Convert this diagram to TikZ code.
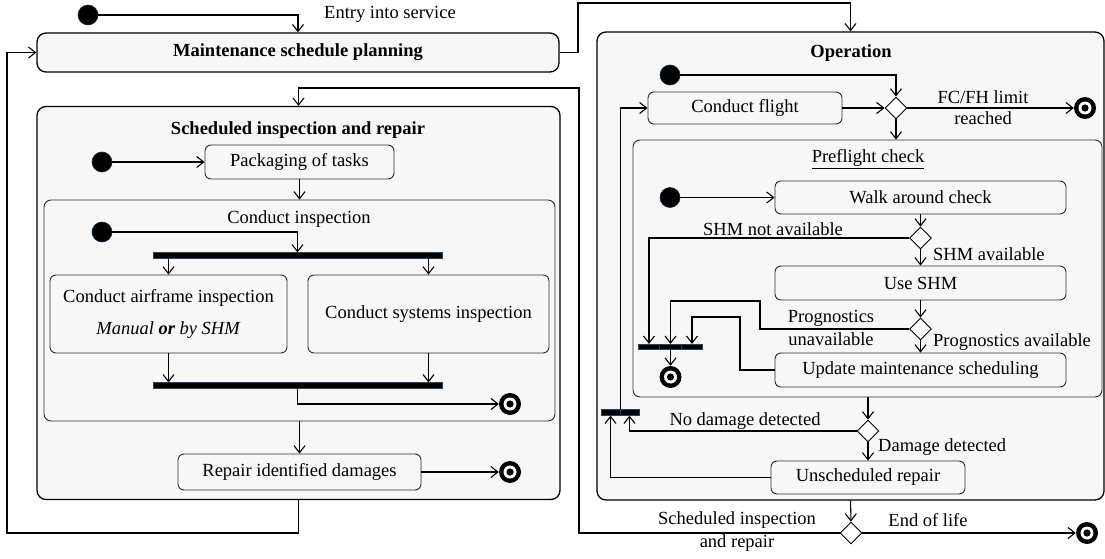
\documentclass[tikz,border=0pt]{standalone}
\usepackage{fontspec}
\setmainfont{Liberation Serif}
\usetikzlibrary{arrows.meta,shapes.geometric,calc}

\definecolor{panel}{HTML}{F7F7F7}
\definecolor{edge}{HTML}{2B2B2B}
\definecolor{barrim}{HTML}{1E4463}
\definecolor{dotrim}{HTML}{10283E}

\begin{document}
\begin{tikzpicture}[x=1pt,y=-1pt,
  every node/.style={font=\fontsize{18.5}{22}\selectfont},
  container/.style={draw=black, line width=1.3pt, fill=panel, rounded corners=9pt, inner sep=0},
  region/.style={draw=edge, line width=0.9pt, fill=panel, rounded corners=7pt, inner sep=0},
  act/.style={draw=edge, line width=0.9pt, fill=panel, rounded corners=6pt, inner sep=0, align=center},
  startdot/.style={circle, fill=black, draw=dotrim, line width=0.6pt, minimum size=20pt, inner sep=0},
  finaldot/.style={circle, fill=black, minimum size=22pt, inner sep=0,
    path picture={\fill[white] (path picture bounding box.center) circle (6.5pt);
                  \fill[black] (path picture bounding box.center) circle (3.6pt);}},
  choice/.style={diamond, draw=black, line width=0.9pt, fill=white, minimum width=22pt, minimum height=22pt, inner sep=0},
  syncbar/.style={rectangle, fill=black, draw=barrim, line width=0.7pt, inner sep=0, minimum height=5.5pt},
  flow/.style={draw=black, line width=1.1pt, -{Straight Barb[length=7pt,width=11pt,line width=1.1pt]}},
  lbl/.style={inner sep=0},
  title/.style={inner sep=0, font=\fontsize{18.5}{22}\selectfont\bfseries}
]
\useasboundingbox (0,0) rectangle (1105,559);

% ---------- containers ----------
\node[container, minimum width=522pt, minimum height=39pt, font=\fontsize{18.5}{22}\selectfont\bfseries]
  (plan) at (298,52.5) {Maintenance schedule planning};
\node[container, minimum width=523pt, minimum height=393pt] (sched) at (298.5,303) {};
\node[title] (schedT) at (298,130) {Scheduled inspection and repair};
\node[container, minimum width=507pt, minimum height=468pt] (ops) at (850.5,266) {};
\node[title] (opsT) at (851,53) {Operation};

% ---------- scheduled inspection and repair ----------
\node[act, minimum width=189pt, minimum height=34pt] (pack) at (299.5,162) {Packaging of tasks};
\node[startdot] (s1) at (102,162) {};
\node[region, minimum width=511pt, minimum height=221pt] (insp) at (299.5,310.5) {};
\node[lbl] (inspT) at (299,219) {Conduct inspection};
\node[startdot] (s2) at (102,232) {};
\node[syncbar, minimum width=289pt] (fork) at (297.5,255.5) {};
\node[act, minimum width=237pt, minimum height=78pt] (air) at (168.5,314)
  {Conduct airframe inspection\\[10pt]\textit{Manual} {\bfseries\itshape or} \textit{by SHM}};
\node[act, minimum width=241pt, minimum height=78pt] (sys) at (428.5,314) {Conduct systems inspection};
\node[syncbar, minimum width=289pt] (join) at (297.5,385.5) {};
\node[finaldot] (f1) at (510,404) {};
\node[act, minimum width=243pt, minimum height=36pt] (repair) at (299.5,472) {Repair identified damages};
\node[finaldot] (f2) at (510,472) {};

% ---------- operation ----------
\node[startdot] (s3) at (670,75) {};
\node[act, minimum width=194pt, minimum height=32pt] (flight) at (745,108) {Conduct flight};
\node[choice] (d1) at (896,108) {};
\node[finaldot] (f3) at (1085,108) {};
\node[region, minimum width=469pt, minimum height=257pt] (pre) at (867.5,268.5) {};
\node[lbl] (preT) at (868,159) {\underline{Preflight check}};
\node[startdot] (s4) at (670,197.5) {};
\node[act, minimum width=291pt, minimum height=33pt] (walk) at (920.5,197.5) {Walk around check};
\node[choice] (d2) at (920.5,238) {};
\node[act, minimum width=291pt, minimum height=34pt] (shm) at (920.5,283) {Use SHM};
\node[choice] (d3) at (920.5,329) {};
\node[act, minimum width=291pt, minimum height=34pt] (upd) at (920.5,370) {Update maintenance scheduling};
\node[syncbar, minimum width=21.5pt] (bA) at (649,347) {};
\node[syncbar, minimum width=21.5pt] (bB) at (670.5,347) {};
\node[syncbar, minimum width=21.5pt] (bC) at (692,347) {};
\node[finaldot] (f4) at (670.5,377) {};
\node[choice] (d4) at (868,431) {};
\node[syncbar, minimum width=19pt] (rA) at (610.5,412.5) {};
\node[syncbar, minimum width=19pt] (rB) at (629.5,412.5) {};
\node[act, minimum width=194pt, minimum height=33pt] (unsch) at (868,477.5) {Unscheduled repair};
\node[choice] (d5) at (851,533) {};
\node[finaldot] (f5) at (1087,533) {};

% ---------- bend points ----------
\coordinate (kA) at (578,3);
\coordinate (kB) at (7,533);
\coordinate (kC) at (579,88);
\coordinate (kD) at (760,301);
\coordinate (kE) at (740,317);

% ---------- top level flow ----------
\node[startdot] (s0) at (88,15) {};
\draw[flow] (s0) -| (plan.north);
\node[lbl] at (390,14) {Entry into service};
\draw[flow] (plan.east) -| (kA) -| (ops.north);
\draw[flow] (sched.south) |- (kB) |- (plan.west);
\draw[flow] (ops.south) -- (d5.north);
\draw[flow] (d5.west) -| (kC) -| (sched.north);
\draw[flow] (d5.east) -- (f5);
\node[lbl, align=center, font=\fontsize{18.5}{23}\selectfont] at (737,531.5) {Scheduled inspection\\and repair};
\node[lbl] at (928,520) {End of life};

% ---------- scheduled inspection flow ----------
\draw[flow] (s1) -- (pack.west);
\draw[flow] (pack.south) -- (insp.north);
\draw[flow] (s2) -| (fork.north);
\draw[flow] (fork.south -| air.north) -- (air.north);
\draw[flow] (fork.south -| sys.north) -- (sys.north);
\draw[flow] (air.south) -- (air.south |- join.north);
\draw[flow] (sys.south) -- (sys.south |- join.north);
\draw[flow] (join.south) |- (f1);
\draw[flow] (insp.south) -- (repair.north);
\draw[flow] (repair.east) -- (f2);

% ---------- operation flow ----------
\draw[flow] (s3) -| (d1.north);
\draw[flow] (flight.east) -- (d1.west);
\draw[flow] (d1.east) -- (f3);
\node[lbl, align=center, font=\fontsize{18.5}{21}\selectfont] at (983,107.5) {FC/FH limit\\reached};
\draw[flow] (d1.south) -- (d1.south |- pre.north);
\draw[flow] (s4) -- (walk.west);
\draw[flow] (walk.south) -- (d2.north);
\draw[flow] (d2.south) -- (shm.north);
\node[lbl, anchor=west] at (933,254) {SHM available};
\draw[flow] (d2.west) -| (bA.north);
\node[lbl] at (773,229) {SHM not available};
\draw[flow] (shm.south) -- (d3.north);
\draw[flow] (d3.south) -- (upd.north);
\node[lbl, anchor=west] at (933,342) {Prognostics available};
\draw[flow] (d3.west) -| (kD) -| (bB.north);
\node[lbl, align=center, font=\fontsize{18.5}{23}\selectfont] at (831,328) {Prognostics\\unavailable};
\draw[flow] (upd.west) -| (kE) -| (bC.north);
\draw[flow] (bB.south) -- (f4);
\draw[flow] (d4 |- pre.south) -- (d4.north);
\draw[flow] (d4.west) -| (rB.south);
\node[lbl] at (745,421) {No damage detected};
\draw[flow] (d4.south) -- (unsch.north);
\node[lbl, anchor=west] at (878,447) {Damage detected};
\draw[flow] (unsch.west) -| (rA.south);
\draw[flow] (rA.north east) |- (flight.west);
\end{tikzpicture}
\end{document}
